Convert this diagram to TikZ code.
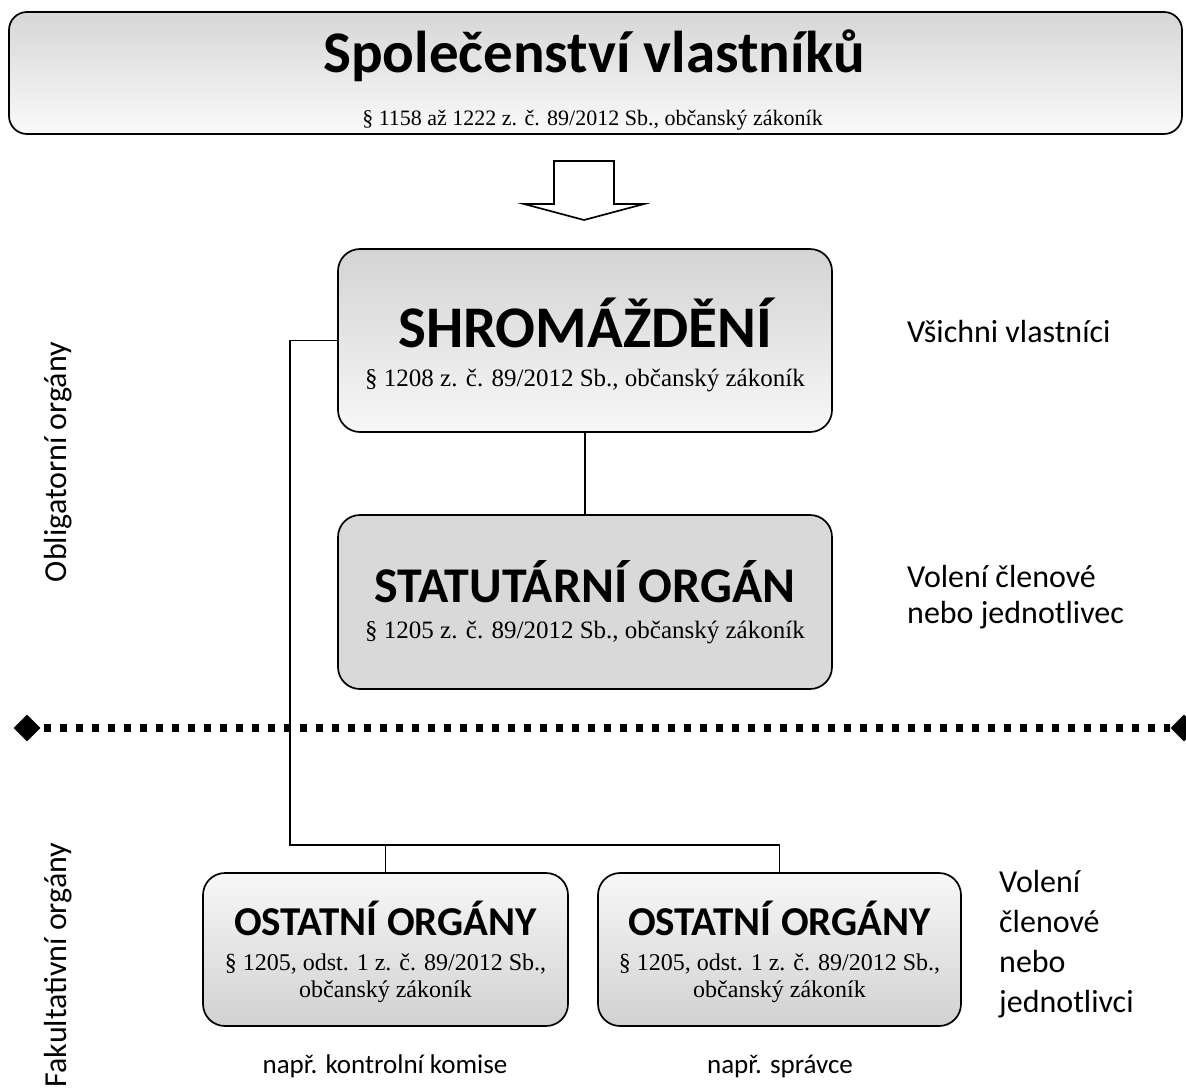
\documentclass[tikz,border=0pt]{standalone}
\usepackage{fontspec}
\setmainfont{Liberation Serif}
\newfontfamily\calfont{Carlito}
\usetikzlibrary{shapes.geometric}
\tikzset{
  box/.style={draw=black, line width=1.7pt, rounded corners=22pt, inner sep=0pt},
  conn/.style={draw=black, line width=1.7pt},
  ttl/.style={anchor=base, inner sep=0pt, font=\calfont\bfseries},
  refs/.style={anchor=base, inner sep=0pt},
  lbl/.style={anchor=base west, inner sep=0pt, font=\calfont\fontsize{32}{36}\selectfont},
  marker/.style={diamond, fill=black, inner sep=0pt, minimum width=27pt, minimum height=27pt},
}
\begin{document}
\begin{tikzpicture}[x=1pt,y=-1pt]
\useasboundingbox[fill=white] (0,0) rectangle (1186,1090);

% boxes
\node[box, rounded corners=18pt, top color=black!16, bottom color=black!2, minimum width=1173pt, minimum height=122pt] (top) at (595.5,73) {};
\node[box, top color=black!17, bottom color=black!3, minimum width=494pt, minimum height=183pt] (shrom) at (585,340.5) {};
\node[box, fill=black!15, minimum width=494pt, minimum height=174pt] (stat) at (585,602) {};
\node[box, top color=black!3, bottom color=black!18, minimum width=365pt, minimum height=153pt] (ost1) at (385.5,949.5) {};
\node[box, top color=black!3, bottom color=black!18, minimum width=363pt, minimum height=153pt] (ost2) at (779.5,949.5) {};

% texts in boxes
\node[ttl, font=\calfont\bfseries\fontsize{59}{62}\selectfont] (toptitle) at (594,72) {Společenství vlastníků};
\node[refs, font=\fontsize{22}{24}\selectfont] (topref) at (592.5,125) {§ 1158 až 1222 z. č. 89/2012 Sb., občanský zákoník};

\node[ttl, font=\calfont\bfseries\fontsize{59}{62}\selectfont] (shromtitle) at (585,347) {SHROMÁŽDĚNÍ};
\node[refs, font=\fontsize{25}{28}\selectfont] (shromref) at (585,386) {§ 1208 z. č. 89/2012 Sb., občanský zákoník};

\node[ttl, font=\calfont\bfseries\fontsize{50}{53}\selectfont] (stattitle) at (585,602) {STATUTÁRNÍ ORGÁN};
\node[refs, font=\fontsize{25}{28}\selectfont] (statref) at (585,638) {§ 1205 z. č. 89/2012 Sb., občanský zákoník};

\node[ttl, font=\calfont\bfseries\fontsize{41}{44}\selectfont] (ost1title) at (385.5,935) {OSTATNÍ ORGÁNY};
\node[refs, font=\fontsize{24}{27}\selectfont] (ost1ref) at (385.5,970) {§ 1205, odst. 1 z. č. 89/2012 Sb.,};
\node[refs, font=\fontsize{24}{27}\selectfont] (ost1ref2) at (385.5,997) {občanský zákoník};

\node[ttl, font=\calfont\bfseries\fontsize{41}{44}\selectfont] (ost2title) at (779.5,935) {OSTATNÍ ORGÁNY};
\node[refs, font=\fontsize{24}{27}\selectfont] (ost2ref) at (779.5,970) {§ 1205, odst. 1 z. č. 89/2012 Sb.,};
\node[refs, font=\fontsize{24}{27}\selectfont] (ost2ref2) at (779.5,997) {občanský zákoník};

% block arrow
\draw[line width=1.7pt, line join=miter, fill=white] (554,161) -- (614,161) -- (614,204) -- (644,204) -- (584,220) -- (524,204) -- (554,204) -- cycle;

% connectors
\coordinate (j1) at (290,845);
\draw[conn] (shrom.south) -- (stat.north);
\draw[conn] (shrom.west) -| (j1) -| (ost2.north);
\draw[conn] (ost1.north) -- (ost1.north |- j1);

% dotted separator
\node[marker] (dl) at (27,728) {};
\node[marker] (dr) at (1184,728) {};
\draw[line width=7.5pt, dash pattern=on 7pt off 9pt, shorten <=3pt] (dl.east) -- (dr.west);

% right labels
\node[lbl] (allown) at (907,342) {Všichni vlastníci};
\node[lbl] (vol1) at (907,587) {Volení členové};
\node[lbl] (vol2) at (907,623) {nebo jednotlivec};
\node[lbl] (v1) at (999,892) {Volení};
\node[lbl] (v2) at (999,932) {členové};
\node[lbl] (v3) at (999,972) {nebo};
\node[lbl] (v4) at (999,1012) {jednotlivci};

% left rotated labels
\node[rotate=90, inner sep=0pt, font=\calfont\fontsize{32}{36}\selectfont] (oblig) at (58,462) {Obligatorní orgány};
\node[rotate=90, inner sep=0pt, font=\calfont\fontsize{32}{36}\selectfont] (fakult) at (58,965) {Fakultativní orgány};

% bottom labels
\node[anchor=base, inner sep=0pt, font=\calfont\fontsize{27}{30}\selectfont] (ex1) at (385,1073) {např. kontrolní komise};
\node[anchor=base, inner sep=0pt, font=\calfont\fontsize{27}{30}\selectfont] (ex2) at (780,1073) {např. správce};
\end{tikzpicture}
\end{document}
